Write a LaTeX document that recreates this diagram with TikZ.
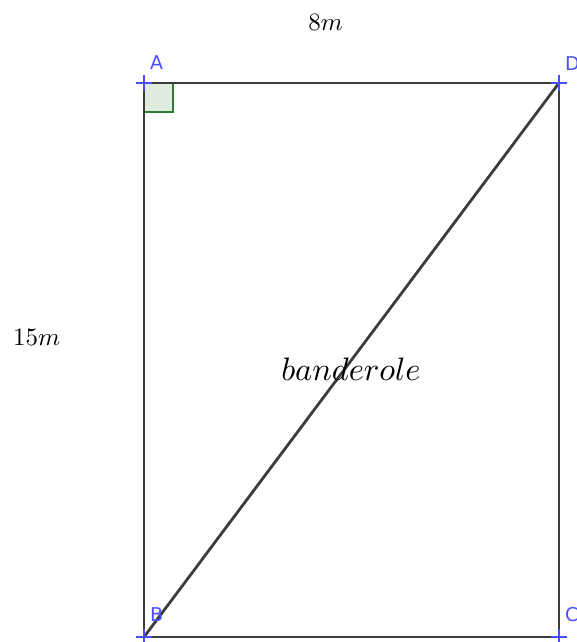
\documentclass[tikz,border=0pt]{standalone}
\usepackage{fontspec}
\newfontfamily\lblfont{DejaVu Sans}
\definecolor{segcol}{RGB}{60,60,60}
\definecolor{ptcol}{RGB}{77,77,255}
\definecolor{angcol}{RGB}{46,125,50}
\definecolor{angfill}{RGB}{224,236,224}
\begin{document}
\begin{tikzpicture}[x=1pt,y=-1pt,
  seg/.style={draw=segcol,line width=2.8pt},
  ptlbl/.style={text=ptcol,font=\lblfont\fontsize{19}{21}\selectfont,inner sep=0pt,anchor=west},
  mlbl/.style={inner sep=0pt},
  cross/.style={draw=ptcol,line width=2.4pt}]
\useasboundingbox (0,0) rectangle (577,642);
\coordinate (A) at (144,83);
\coordinate (D) at (559,83);
\coordinate (B) at (144,637);
\coordinate (C) at (559,637);
% right angle
\filldraw[draw=angcol,fill=angfill,line width=2.4pt] (A) rectangle ++(29,29);
% sides
\draw[seg] (A) -- (D) -- (C) -- (B) -- cycle;
\draw[seg] (B) -- (D);
% crosses
\foreach \p in {A,B,C,D}{
  \draw[cross] ([xshift=-8pt]\p) -- ([xshift=8pt]\p);
  \draw[cross] ([yshift=-8pt]\p) -- ([yshift=8pt]\p);
}
% point labels
\node[ptlbl] (lA) at (150,63) {A};
\node[ptlbl] (lD) at (565,64) {D};
\node[ptlbl] (lB) at (150,615) {B};
\node[ptlbl] (lC) at (565,615) {C};
% measurements
\node[mlbl] (w) at (325.5,22) {\scalebox{2.5}{$8m$}};
\node[mlbl] (h) at (36.5,337) {\scalebox{2.5}{$15m$}};
\node[mlbl] (ban) at (351,369) {\scalebox{3.25}{$banderole$}};
\end{tikzpicture}
\end{document}
